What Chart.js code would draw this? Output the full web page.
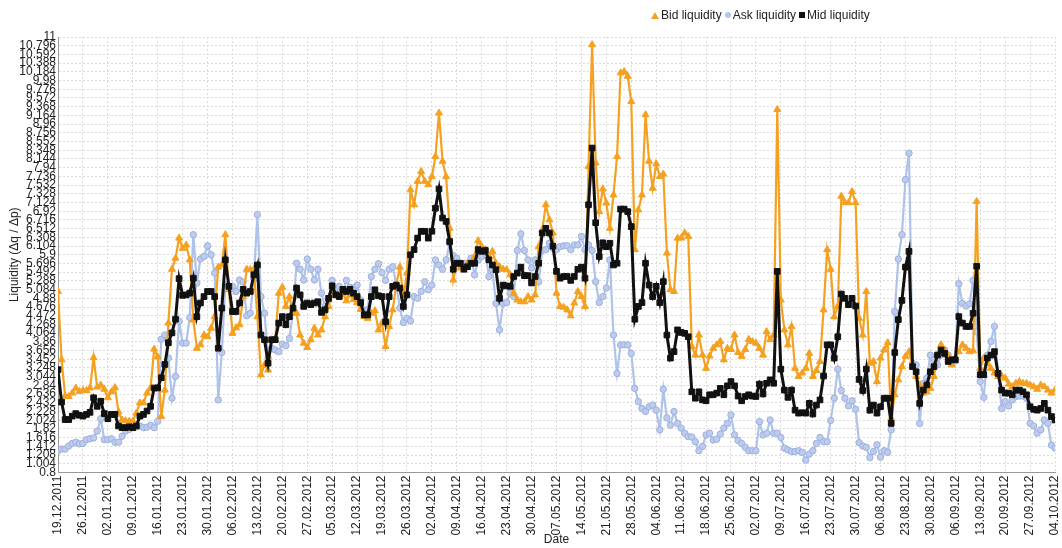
<!DOCTYPE html>
<html>
<head>
<meta charset="utf-8">
<script src="https://cdn.jsdelivr.net/npm/chart.js@4.4.1/dist/chart.umd.min.js"></script>
<style>
  html, body { margin: 0; padding: 0; background: #fff; }
  #wrap { position: relative; width: 1062px; height: 548px; }
  #legend { position: absolute; top: 8px; left: 651px; display: flex; align-items: center; font: 12px "Liberation Sans", Arial, sans-serif; color: #222; white-space: nowrap; }
  #legend .item { display: inline-flex; align-items: center; margin-right: 3px; }
  .mk { display: inline-block; margin-right: 2px; }
  .tri { width: 0; height: 0; border-left: 4px solid transparent; border-right: 4px solid transparent; border-bottom: 7px solid #F5A01F; }
  .dot { width: 6px; height: 6px; border-radius: 50%; background: #B4C6EC; }
  .sq { width: 6px; height: 6px; background: #111; }
</style>
</head>
<body>
<div id="wrap">
  <canvas id="chart"></canvas>
  <div id="legend">
    <span class="item"><span class="mk tri"></span>Bid liquidity</span>
    <span class="item"><span class="mk dot"></span>Ask liquidity</span>
    <span class="item"><span class="mk sq"></span>Mid liquidity</span>
  </div>
</div>
<script>
// one label every 7 observations
const weekLabels = [
  '19.12.2011', '26.12.2011', '02.01.2012', '09.01.2012', '16.01.2012', '23.01.2012', '30.01.2012',
  '06.02.2012', '13.02.2012', '20.02.2012', '27.02.2012', '05.03.2012', '12.03.2012', '19.03.2012',
  '26.03.2012', '02.04.2012', '09.04.2012', '16.04.2012', '23.04.2012', '30.04.2012', '07.05.2012',
  '14.05.2012', '21.05.2012', '28.05.2012', '04.06.2012', '11.06.2012', '18.06.2012', '25.06.2012',
  '02.07.2012', '09.07.2012', '16.07.2012', '23.07.2012', '30.07.2012', '06.08.2012', '23.08.2012',
  '30.08.2012', '06.09.2012', '13.09.2012', '20.09.2012', '27.09.2012', '04.10.2012'
];

const bid = [
  5.04, 3.44, 2.59, 2.58, 2.66, 2.78, 2.70,
  2.72, 2.72, 2.78, 3.49, 2.80, 2.85, 2.75,
  2.55, 2.69, 2.79, 2.22, 2.03, 2.01, 2.00,
  2.00, 2.19, 2.43, 2.43, 2.66, 2.78, 3.69,
  3.51, 2.11, 2.73, 4.30, 5.56, 5.82, 6.29,
  6.05, 6.13, 5.78, 4.37, 3.71, 3.79, 4.02,
  3.98, 4.18, 4.45, 5.61, 5.66, 6.37, 5.08,
  4.06, 4.19, 4.26, 4.92, 5.56, 5.55, 5.56,
  4.45, 3.09, 3.32, 3.20, 3.91, 3.91, 5.00,
  5.14, 4.69, 4.92, 4.53, 4.53, 4.02, 3.83,
  3.73, 3.91, 4.18, 4.02, 4.14, 4.45, 4.69,
  5.04, 4.96, 4.96, 5.00, 4.82, 4.96, 4.85,
  4.78, 4.62, 4.45, 4.41, 4.53, 4.59, 4.14,
  4.30, 3.75, 4.22, 4.61, 5.20, 5.61, 4.92,
  5.47, 7.42, 7.07, 7.62, 7.85, 7.62, 7.54,
  7.73, 8.20, 9.22, 8.09, 7.73, 6.52, 5.31,
  5.70, 5.59, 5.59, 5.70, 5.70, 5.86, 6.23,
  6.09, 6.02, 5.86, 5.98, 5.70, 5.62, 5.56,
  5.55, 5.43, 5.00, 4.84, 4.80, 4.80, 4.92,
  4.84, 4.96, 6.09, 6.48, 7.07, 6.72, 6.41,
  5.00, 4.69, 4.67, 4.61, 4.47, 4.77, 5.04,
  4.92, 4.69, 7.97, 10.82, 8.05, 6.91, 7.44,
  7.11, 6.52, 7.30, 8.20, 10.16, 10.19, 10.08,
  9.49, 6.02, 6.95, 7.30, 9.18, 8.09, 7.46,
  8.03, 7.73, 7.79, 5.94, 5.08, 5.04, 6.29,
  6.29, 6.41, 6.33, 3.75, 3.55, 4.02, 3.55,
  3.24, 3.53, 3.71, 3.79, 3.87, 3.44, 3.71,
  3.68, 4.02, 3.61, 3.52, 3.68, 3.92, 3.87,
  3.83, 3.71, 3.55, 4.10, 3.91, 4.02, 9.30,
  4.84, 4.14, 3.79, 4.22, 3.24, 3.05, 3.13,
  3.24, 3.59, 3.05, 3.19, 3.40, 4.61, 6.02,
  5.56, 4.45, 4.69, 7.27, 7.12, 7.12, 7.38,
  7.12, 4.41, 4.02, 5.04, 3.36, 3.40, 2.93,
  3.48, 3.67, 3.84, 2.07, 2.62, 2.97, 3.28,
  3.52, 3.63, 3.28, 3.05, 2.85, 2.66, 2.69,
  2.77, 3.05, 3.55, 3.79, 3.67, 3.53, 3.32,
  3.48, 3.63, 3.79, 3.71, 3.63, 3.65, 7.15,
  3.24, 3.48, 3.36, 3.24, 3.13, 3.05, 3.06,
  3.01, 2.87, 2.81, 2.89, 2.93, 2.89, 2.89,
  2.85, 2.81, 2.75, 2.85, 2.81, 2.73, 2.66,
  2.73
];

const ask = [
  1.31, 1.35, 1.35, 1.42, 1.48, 1.51, 1.47,
  1.48, 1.57, 1.59, 1.61, 1.77, 2.06, 1.57,
  1.57, 1.59, 1.51, 1.51, 1.65, 1.77, 1.81,
  1.85, 1.87, 1.89, 1.85, 1.86, 1.91, 1.85,
  2.00, 3.92, 4.02, 3.48, 2.54, 3.05, 4.34,
  3.83, 3.83, 4.43, 6.37, 5.24, 5.80, 5.86,
  6.11, 5.90, 5.47, 2.50, 3.61, 5.20, 5.17,
  5.16, 5.04, 5.31, 5.26, 4.47, 4.53, 5.33,
  6.84, 4.92, 4.53, 3.48, 3.71, 3.67, 3.63,
  3.81, 3.77, 3.94, 4.57, 5.70, 5.56, 5.31,
  5.80, 5.56, 5.31, 5.56, 5.00, 4.69, 4.84,
  5.30, 5.00, 5.16, 5.04, 5.30, 5.14, 5.12,
  5.19, 4.84, 4.61, 4.61, 5.39, 5.56, 5.69,
  5.48, 5.30, 5.56, 5.62, 5.20, 4.65, 4.31,
  4.41, 4.35, 4.92, 4.88, 5.04, 5.27, 5.08,
  5.19, 5.78, 5.66, 5.56, 5.78, 6.17, 5.88,
  5.82, 5.70, 5.70, 5.66, 5.82, 5.43, 5.78,
  5.86, 6.02, 5.39, 5.55, 4.76, 4.14, 4.76,
  4.78, 5.00, 4.92, 6.00, 6.39, 6.00, 5.78,
  5.59, 5.78, 5.27, 6.00, 6.02, 6.17, 6.05,
  6.02, 6.09, 6.11, 6.11, 6.02, 6.13, 6.13,
  6.33, 6.02, 6.13, 6.00, 5.27, 4.78, 4.92,
  5.12, 5.78, 4.02, 3.12, 3.79, 3.79, 3.79,
  3.59, 2.77, 2.46, 2.30, 2.23, 2.34, 2.38,
  2.26, 1.80, 2.75, 2.08, 1.91, 2.23, 1.95,
  1.84, 1.72, 1.64, 1.63, 1.52, 1.31, 1.41,
  1.68, 1.72, 1.56, 1.58, 1.70, 1.84, 1.95,
  2.15, 1.68, 1.55, 1.48, 1.39, 1.31, 1.31,
  1.31, 1.99, 1.68, 1.72, 2.03, 1.72, 1.72,
  1.62, 1.37, 1.33, 1.29, 1.29, 1.31, 1.27,
  1.09, 1.23, 1.31, 1.48, 1.62, 1.52, 1.52,
  2.02, 2.54, 3.22, 2.72, 2.54, 2.36, 2.48,
  2.28, 1.50, 1.42, 1.39, 1.15, 1.29, 1.45,
  1.16, 1.31, 1.27, 1.80, 4.57, 5.80, 6.37,
  7.66, 8.28, 3.36, 3.32, 1.95, 2.89, 3.01,
  3.55, 3.44, 3.32, 3.55, 3.67, 3.55, 3.37,
  3.41, 5.22, 4.76, 4.70, 4.75, 5.30, 4.10,
  2.93, 2.56, 3.55, 3.87, 4.22, 3.12, 2.30,
  2.46, 2.36, 2.50, 2.58, 2.59, 2.59, 2.54,
  1.95, 1.89, 1.72, 1.80, 2.03, 1.95, 1.44,
  1.37
];

const mid = [
  3.21, 2.45, 2.04, 2.04, 2.12, 2.18, 2.14,
  2.12, 2.16, 2.21, 2.55, 2.35, 2.47, 2.18,
  2.06, 2.16, 2.16, 1.89, 1.85, 1.85, 1.87,
  1.85, 1.89, 2.12, 2.16, 2.24, 2.35, 2.78,
  2.78, 3.02, 3.33, 3.84, 4.07, 4.39, 5.34,
  4.95, 4.96, 5.00, 5.35, 4.45, 4.77, 4.92,
  5.04, 5.04, 4.92, 3.71, 4.65, 5.78, 5.16,
  4.57, 4.57, 4.77, 5.09, 5.00, 5.04, 5.43,
  5.66, 4.02, 3.91, 3.36, 3.91, 3.91, 4.30,
  4.45, 4.26, 4.45, 4.65, 5.12, 4.96, 4.69,
  4.77, 4.73, 4.77, 4.80, 4.55, 4.61, 4.88,
  5.17, 4.96, 4.92, 5.09, 5.04, 5.09, 5.00,
  4.92, 4.78, 4.49, 4.49, 4.92, 5.08, 4.94,
  4.92, 4.33, 4.92, 5.16, 5.19, 5.12, 4.69,
  4.96, 5.90, 6.02, 6.29, 6.45, 6.45, 6.29,
  6.45, 6.99, 7.44, 6.76, 6.68, 6.21, 5.56,
  5.70, 5.70, 5.56, 5.62, 5.70, 5.70, 6.02,
  5.98, 6.00, 5.78, 5.66, 5.55, 4.88, 5.19,
  5.17, 5.16, 5.39, 5.47, 5.61, 5.41, 5.41,
  5.24, 5.39, 5.70, 6.41, 6.52, 6.41, 6.10,
  5.51, 5.35, 5.39, 5.39, 5.30, 5.39, 5.56,
  5.61, 5.35, 7.07, 8.40, 6.65, 5.86, 6.18,
  6.09, 6.17, 5.66, 5.70, 6.97, 6.97, 6.91,
  6.56, 4.39, 4.69, 4.78, 5.70, 5.19, 4.92,
  5.16, 4.78, 5.27, 4.02, 3.48, 3.63, 4.14,
  4.08, 4.06, 3.98, 2.69, 2.54, 2.69, 2.50,
  2.48, 2.62, 2.62, 2.66, 2.77, 2.62, 2.83,
  2.93, 2.83, 2.59, 2.48, 2.58, 2.62, 2.59,
  2.58, 2.87, 2.64, 2.89, 2.97, 2.89, 5.51,
  3.22, 2.73, 2.56, 2.73, 2.26, 2.19, 2.20,
  2.19, 2.42, 2.17, 2.38, 2.50, 3.06, 3.79,
  3.79, 3.48, 3.98, 4.98, 4.88, 4.73, 4.88,
  4.70, 2.98, 2.72, 3.22, 2.26, 2.38, 2.19,
  2.34, 2.54, 2.54, 1.95, 3.61, 4.38, 4.83,
  5.61, 5.98, 3.28, 3.16, 2.42, 2.73, 2.85,
  3.16, 3.28, 3.55, 3.67, 3.59, 3.40, 3.44,
  3.44, 4.45, 4.30, 4.22, 4.22, 4.53, 5.63,
  3.09, 3.09, 3.48, 3.55, 3.63, 3.12, 2.73,
  2.66, 2.66, 2.62, 2.73, 2.73, 2.69, 2.62,
  2.34, 2.28, 2.26, 2.30, 2.42, 2.26, 2.11,
  2.03
];

const Y_MIN = 0.8;
const Y_MAX = 11;
const Y_STEP = 0.204;

const FONT = '"Liberation Sans", Arial, sans-serif';
const toXY = arr => arr.map((v, i) => ({ x: i, y: v }));

new Chart(document.getElementById('chart'), {
  type: 'line',
  data: {
    datasets: [
      {
        label: 'Bid liquidity',
        data: toXY(bid),
        borderColor: '#F5A01F',
        backgroundColor: '#F5A01F',
        borderWidth: 2.2,
        pointStyle: 'triangle',
        pointRadius: 4,
        pointBorderWidth: 1,
        order: 1,
      },
      {
        label: 'Ask liquidity',
        data: toXY(ask),
        borderColor: '#AFC2EA',
        backgroundColor: '#BDCCEE',
        pointBorderColor: '#9DB1DE',
        borderWidth: 2.2,
        pointStyle: 'circle',
        pointRadius: 3.2,
        pointBorderWidth: 1,
        order: 2,
      },
      {
        label: 'Mid liquidity',
        data: toXY(mid),
        borderColor: '#111',
        backgroundColor: '#111',
        borderWidth: 3,
        pointStyle: 'rect',
        pointRadius: 4,
        pointBorderWidth: 1,
        order: 0,
      },
    ],
  },
  options: {
    responsive: true,
    maintainAspectRatio: false,
    animation: false,
    layout: { padding: { top: 37, right: 7, left: 0, bottom: 0 } },
    elements: { line: { tension: 0 } },
    plugins: {
      legend: { display: false },
      tooltip: { enabled: false },
    },
    scales: {
      x: {
        type: 'linear',
        min: 0,
        max: weekLabels.length * 7 - 7,
        // keep the rotated end labels from shrinking the plot
        afterFit: s => { s.height = 75.5; s.paddingRight = 0; s.paddingLeft = 0; },
        ticks: {
          stepSize: 7,
          autoSkip: false,
          maxRotation: 90,
          minRotation: 90,
          padding: 3,
          color: '#222',
          font: { family: FONT, size: 12 },
          callback: v => weekLabels[Math.round(v / 7)] ?? '',
        },
        grid: { color: '#dcdcdc', drawTicks: false },
        border: { color: '#999', dash: [2, 2] },
        title: { display: true, text: 'Date', color: '#222', font: { family: FONT, size: 12 }, padding: { bottom: 1, top: 0 } },
      },
      y: {
        min: Y_MIN,
        max: Y_MAX,
        afterFit: s => { s.width = 58; },
        ticks: {
          stepSize: Y_STEP,
          autoSkip: false,
          padding: 2,
          color: '#222',
          font: { family: FONT, size: 12 },
          callback: v => String(+v.toFixed(3)),
        },
        grid: { color: '#dcdcdc', drawTicks: false },
        border: { color: '#999', dash: [2, 2] },
        title: { display: true, text: 'Liquidity (Δq / Δp)', color: '#222', font: { family: FONT, size: 12 }, padding: { top: 7, bottom: 0 } },
      },
    },
  },
});
</script>
</body>
</html>
